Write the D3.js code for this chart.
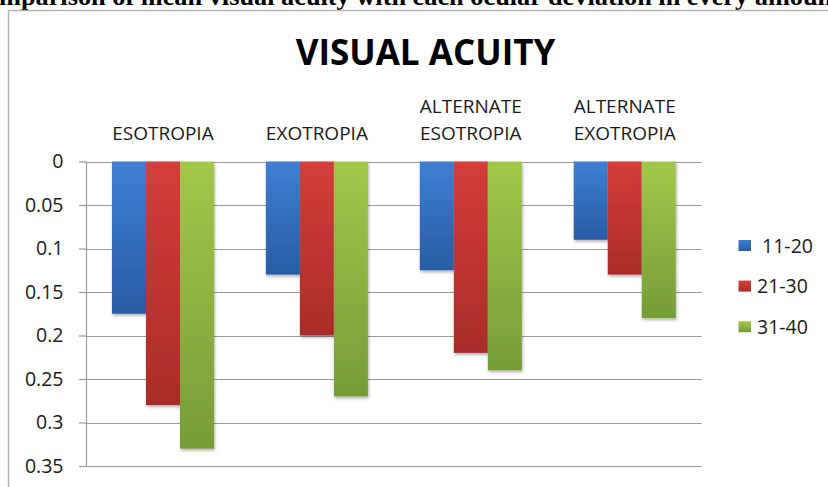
<!DOCTYPE html>
<html>
<head>
<meta charset="utf-8">
<script src="https://cdn.jsdelivr.net/npm/d3@7"></script>
<style>
  html, body { margin: 0; padding: 0; background: #fff; }
  svg { display: block; }
  text { font-family: "Open Sans", sans-serif; fill: #1a1a1a; }
</style>
</head>
<body>
<svg id="chart" width="828" height="487"></svg>
<script>
// ---- data ----
const categories = [["ESOTROPIA"], ["EXOTROPIA"], ["ALTERNATE", "ESOTROPIA"], ["ALTERNATE", "EXOTROPIA"]];
const seriesNames = [" 11-20", "21-30", "31-40"];
const series1120 = [0.175, 0.13, 0.125, 0.09];
const series2130 = [0.28, 0.20, 0.22, 0.13];
const series3140 = [0.33, 0.27, 0.24, 0.18];
const tickValues = [0, 0.05, 0.1, 0.15, 0.2, 0.25, 0.3, 0.35];
const tickLabels = ["0", "0.05", "0.1", "0.15", "0.2", "0.25", "0.3", "0.35"];
const chartTitle = "VISUAL ACUITY";
const caption = "mparison of mean visual acuity with each ocular deviation in every amount";

(function () {
const seriesValues = [series1120, series2130, series3140];
const colors = [
  { c0: "#3d7fd3", c1: "#2a5ca5" },
  { c0: "#d43d3b", c1: "#a92c2a" },
  { c0: "#a2c84a", c1: "#769c38" }
];

const svg = d3.select("#chart");
const defs = svg.append("defs");
colors.forEach((c, i) => {
  const g = defs.append("linearGradient").attr("id", "grad" + i)
    .attr("x1", 0).attr("y1", 0).attr("x2", 0).attr("y2", 1);
  g.append("stop").attr("offset", "0%").attr("stop-color", c.c0);
  g.append("stop").attr("offset", "100%").attr("stop-color", c.c1);
});
const f = defs.append("filter").attr("id", "shadow")
  .attr("x", "-20%").attr("y", "-5%").attr("width", "140%").attr("height", "115%");
f.append("feDropShadow").attr("dx", 1).attr("dy", 2).attr("stdDeviation", 1.5)
  .attr("flood-color", "#000").attr("flood-opacity", 0.3);

// caption (cut off at top)
svg.append("text")
  .attr("x", -1).attr("y", 5)
  .attr("textLength", 842).attr("lengthAdjust", "spacingAndGlyphs")
  .style("font-family", "'Liberation Serif', 'Times New Roman', serif")
  .style("font-weight", "bold").style("font-size", "26px").style("fill", "#000")
  .text(caption);

// chart frame
svg.append("rect")
  .attr("x", 8.5).attr("y", 10.5).attr("width", 900).attr("height", 600)
  .attr("fill", "none").attr("stroke", "#b4b4b4").attr("stroke-width", 1.5);

// scales
const pL = 86, pR = 701.7, pT = 161.5, pB = 466;
const y = d3.scaleLinear().domain([0, 0.35]).range([pT, pB]);
const x0 = d3.scaleBand().domain(d3.range(categories.length)).range([pL, pR])
  .paddingInner(0.337).paddingOuter(0.1685);
const x1 = d3.scaleBand().domain(d3.range(seriesNames.length)).range([0, x0.bandwidth()]);

// gridlines
svg.append("g").selectAll("line").data(tickValues).join("line")
  .attr("x1", pL).attr("x2", pR)
  .attr("y1", d => Math.round(y(d)) + 0.5).attr("y2", d => Math.round(y(d)) + 0.5)
  .attr("stroke", "#9a9a9a").attr("stroke-width", 1.2);

// y axis
const yAxis = d3.axisLeft(y).tickValues(tickValues)
  .tickFormat((d, i) => tickLabels[i]).tickSize(7).tickPadding(15.5);
const ga = svg.append("g").attr("transform", `translate(${pL},0)`).call(yAxis);
ga.select(".domain").attr("stroke", "#9a9a9a").attr("stroke-width", 1.2)
  .attr("d", `M0.5,${pT}V${pB}`);
ga.selectAll(".tick line").attr("stroke", "#9a9a9a").attr("stroke-width", 1.2);
ga.selectAll(".tick text")
  .style("font-family", "'Open Sans', sans-serif").style("font-size", "19.5px")
  .attr("fill", "#1a1a1a");

// bars
const groups = svg.append("g").selectAll("g").data(categories).join("g")
  .attr("transform", (d, i) => `translate(${x0(i)},0)`);
groups.selectAll("rect")
  .data((d, i) => seriesValues.map((s, k) => ({ k, v: s[i] })))
  .join("rect")
  .attr("x", d => x1(d.k)).attr("width", x1.bandwidth())
  .attr("y", y(0)).attr("height", d => y(d.v) - y(0))
  .attr("fill", d => `url(#grad${d.k})`)
  .attr("filter", "url(#shadow)");

// category labels (above plot)
const catG = svg.append("g");
categories.forEach((lines, i) => {
  const cx = x0(i) + x0.bandwidth() / 2;
  const n = lines.length;
  lines.forEach((t, j) => {
    catG.append("text")
      .attr("x", cx).attr("y", 139.5 - (n - 1 - j) * 26.3)
      .attr("text-anchor", "middle")
      .style("font-size", "19px")
      .text(t);
  });
});

// title
svg.append("text")
  .attr("x", 425.5).attr("y", 65)
  .attr("text-anchor", "middle")
  .style("font-family", "'Open Sans', sans-serif")
  .style("font-weight", "bold").style("font-size", "35px").style("fill", "#000")
  .text(chartTitle);

// legend
const leg = svg.append("g").selectAll("g").data(seriesNames).join("g")
  .attr("transform", (d, i) => `translate(738.5, ${245.5 + i * 40.6})`);
leg.append("rect").attr("x", 0).attr("y", -5.5).attr("width", 12.5).attr("height", 11)
  .attr("fill", (d, i) => `url(#grad${i})`);
leg.append("text").attr("x", 18.5).attr("y", 0).attr("dy", "0.36em")
  .style("font-size", "19.5px").style("white-space", "pre")
  .text(d => d);
})();
</script>
</body>
</html>
